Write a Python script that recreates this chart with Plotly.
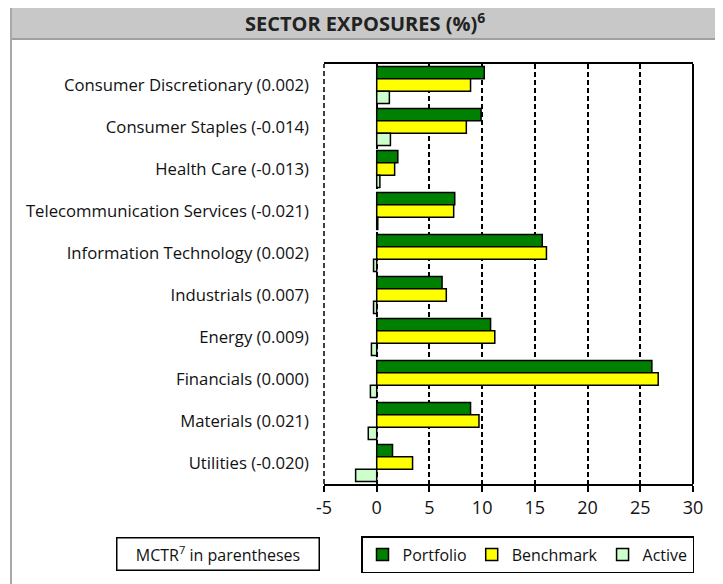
import plotly.graph_objects as go

# sector exposures, top to bottom as in the source
sectors = [
    "Consumer Discretionary (0.002)",
    "Consumer Staples (-0.014)",
    "Health Care (-0.013)",
    "Telecommunication Services (-0.021)",
    "Information Technology (0.002)",
    "Industrials (0.007)",
    "Energy (0.009)",
    "Financials (0.000)",
    "Materials (0.021)",
    "Utilities (-0.020)",
]
portfolio = [10.2, 9.9, 2.0, 7.4, 15.7, 6.2, 10.8, 26.1, 8.9, 1.5]
benchmark = [8.9, 8.5, 1.7, 7.3, 16.1, 6.6, 11.2, 26.7, 9.7, 3.4]
active = [1.2, 1.3, 0.3, 0.1, -0.3, -0.3, -0.5, -0.6, -0.8, -2.0]

x_ticks = [-5, 0, 5, 10, 15, 20, 25, 30]
x_labels = ["-5", "0", "5", "10", "15", "20", "25", "30"]

FONT = "Open Sans"
# the page body has an 8px margin, so the figure is shrunk by that much
OFF = 8
W, H = 723 - OFF, 584 - OFF

fig = go.Figure()
for name, vals, col in [("Portfolio", portfolio, "#008000"),
                        ("Benchmark", benchmark, "#FFFF00"),
                        ("Active", active, "#CCFFCC")]:
    fig.add_trace(go.Bar(y=sectors, x=vals, name=name, orientation="h",
                         marker=dict(color=col, line=dict(color="black", width=1.5))))

# boundaries between category bands, used for the ticks on the zero axis
bounds = [i - 0.5 for i in range(len(sectors) + 1)]

fig.update_layout(
    width=W, height=H,
    margin=dict(l=324 - OFF, r=723 - 693, t=64 - OFF, b=584 - 484, autoexpand=False),
    paper_bgcolor="white", plot_bgcolor="white",
    font=dict(family=FONT, size=16, color="#111"),
    barmode="group", bargap=0.12, bargroupgap=0,
    xaxis=dict(range=[-5, 30], tickvals=x_ticks, ticktext=x_labels,
               showgrid=True, gridcolor="black",
               griddash="5px,3px", gridwidth=1.5, zeroline=False,
               showline=True, linecolor="black", linewidth=2, mirror=True,
               ticks="outside", ticklen=6, tickcolor="black", tickwidth=1.5,
               tickfont=dict(size=18, color="#111")),
    yaxis=dict(autorange="reversed", showgrid=False, showline=False,
               ticks="", ticklabelstandoff=14, tickfont=dict(size=16.7)),
    yaxis2=dict(overlaying="y", anchor="free", position=5 / 35, type="linear",
                range=[bounds[-1], bounds[0]], tickvals=bounds, ticks="outside",
                ticklen=5, tickcolor="black", tickwidth=1.5, showticklabels=False,
                showgrid=False, zeroline=False, showline=True,
                linecolor="black", linewidth=2),
    legend=dict(orientation="h", xref="container", yref="container",
                x=(361 - OFF) / W, y=1 - (536 - OFF) / H, xanchor="left", yanchor="top",
                bordercolor="black", borderwidth=1.5, font=dict(size=16),
                itemwidth=30),
    showlegend=True,
)

# chart frame, title bar and left/right borders of the plot area
def px_x(p):
    return (p - 324) / 369

def px_y(p):
    return (484 - p) / 420

shapes = [
    dict(type="line", xref="paper", yref="paper", x0=1, x1=1, y0=0, y1=1,
         line=dict(color="black", width=2)),
    dict(type="line", xref="paper", yref="paper", x0=0, x1=0, y0=0, y1=1,
         line=dict(color="black", width=1.5, dash="5px,3px")),
    dict(type="line", xref="paper", yref="paper", x0=px_x(11), x1=px_x(11),
         y0=px_y(6), y1=px_y(700), line=dict(color="#A8A8A8", width=2)),
    dict(type="line", xref="paper", yref="paper", x0=px_x(719), x1=px_x(719),
         y0=px_y(6), y1=px_y(700), line=dict(color="#A8A8A8", width=2)),
    dict(type="rect", xref="paper", yref="paper", x0=px_x(11), x1=px_x(719),
         y0=px_y(39), y1=px_y(6), fillcolor="#C8C8C8",
         line=dict(color="#A0A0A0", width=2), layer="below"),
]
fig.update_layout(shapes=shapes)

fig.add_annotation(xref="paper", yref="paper", x=px_x(365), y=px_y(23),
                   xanchor="center", yanchor="middle",
                   text="<b>SECTOR EXPOSURES (%)<sup>6</sup></b>", showarrow=False,
                   font=dict(size=20, color="#222"))
fig.add_annotation(xref="paper", yref="paper", x=px_x(217.5), y=px_y(553.5),
                   xanchor="center", yanchor="middle",
                   text="MCTR<sup>7</sup> in parentheses", showarrow=False,
                   width=197, height=27, bordercolor="black", borderwidth=1.5,
                   borderpad=2, font=dict(size=16, color="#111"))

fig.write_html("out.html")
